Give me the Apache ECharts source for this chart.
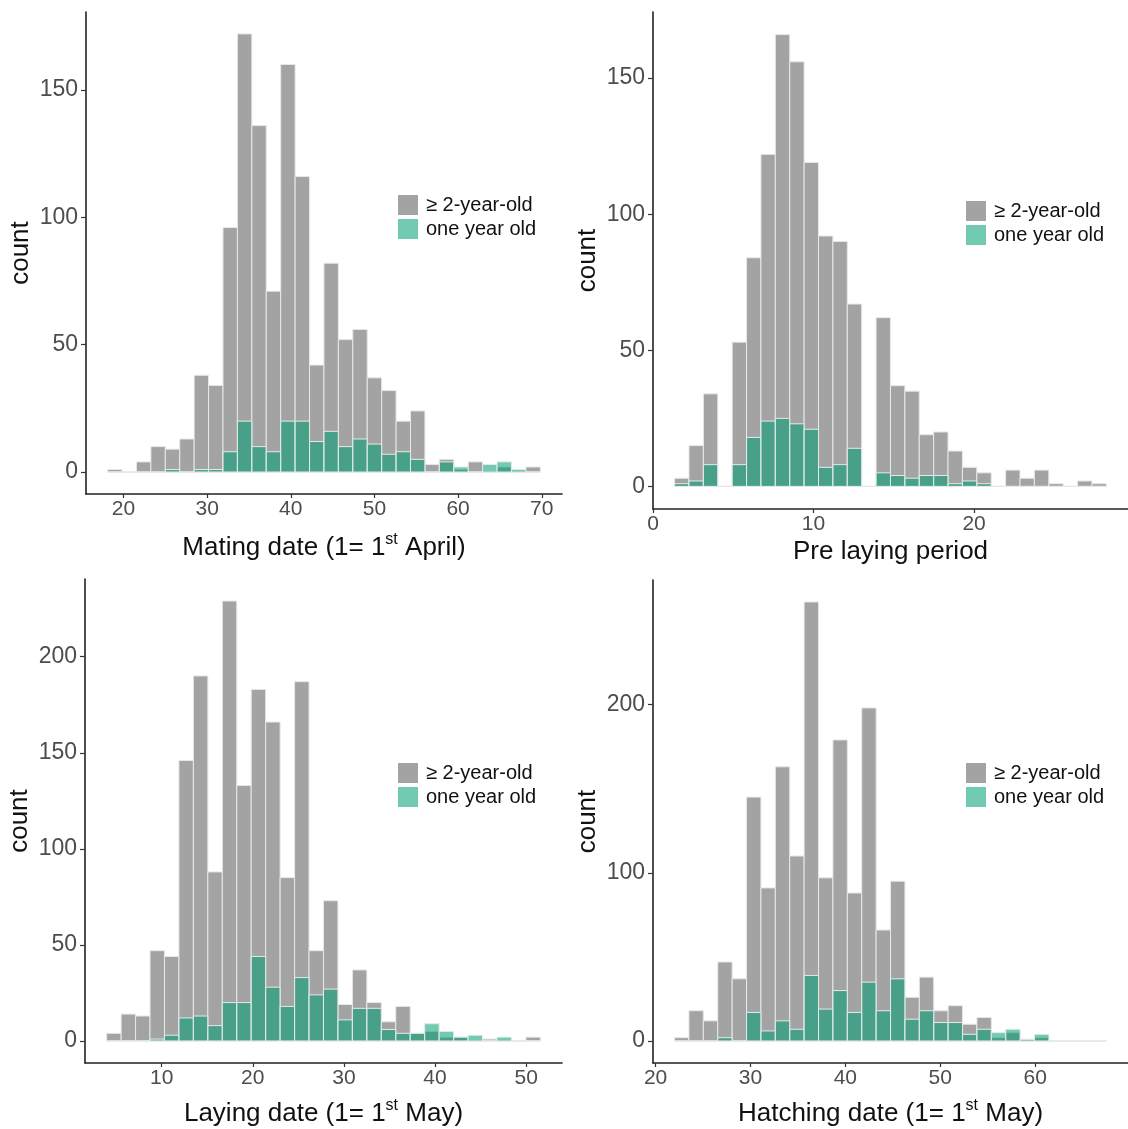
<!DOCTYPE html>
<html>
<head>
<meta charset="utf-8">
<script src="https://cdn.jsdelivr.net/npm/echarts@6/dist/echarts.min.js"></script>
<style>
html,body{margin:0;padding:0;background:#fff;}
#chart{width:1128px;height:1129px;}
</style>
</head>
<body>
<div id="chart"></div>
<script>
// bin counts, 30 bins per panel
var mateOld   = [1,0,4,10,9,13,38,34,96,172,136,71,160,116,42,82,52,56,37,32,20,24,3,5,1,4,0,2,0,2];
var mateYoung = [0,0,0,0,1,0,1,1,8,20,10,8,20,20,12,16,10,13,11,7,8,5,0,4,2,0,3,4,1,0];

var preOld    = [3,15,34,0,53,84,122,166,156,119,92,90,67,0,62,37,35,19,20,13,7,5,0,6,3,6,1,0,2,1];
var preYoung  = [1,2,8,0,8,18,24,25,23,21,7,8,14,0,5,4,3,4,4,1,2,1,0,0,0,0,0,0,0,0];

var layOld    = [4,14,13,47,44,146,190,88,229,133,183,166,85,187,47,73,19,37,20,10,18,4,5,2,2,0,1,0,0,2];
var layYoung  = [0,0,0,1,3,12,13,8,20,20,44,28,18,33,24,27,11,17,17,6,4,4,9,5,2,3,0,2,0,0];

var hatchOld  = [2,18,12,47,37,145,91,163,110,261,97,179,88,198,66,95,26,38,18,21,10,14,2,5,1,2,0,0,0,0];
var hatchYoung= [0,0,0,2,0,17,6,12,7,39,19,30,17,35,18,37,13,18,11,11,4,7,5,7,1,4,0,0,0,0];

// histogram breaks: first edge and bin width
var mateStart = 18.103, mateWidth = 50 / 29;
var preStart = 1.345, preWidth = 26 / 29;
var layStart = 3.966, layWidth = 46 / 29;
var hatchStart = 22.0, hatchWidth = 44 / 29;

// tick labels
var mateXTicks = [20,30,40,50,60,70], mateYTicks = [0,50,100,150];
var preXTicks = [0,10,20], preYTicks = [0,50,100,150];
var layXTicks = [10,20,30,40,50], layYTicks = [0,50,100,150,200];
var hatchXTicks = [20,30,40,50,60], hatchYTicks = [0,100,200];

var NAME_OLD = '≥ 2-year-old', NAME_YOUNG = 'one year old';
var FONT = "'Liberation Sans', Arial, sans-serif";
var GRAY = '#a3a3a3', GREEN = 'rgba(0,158,115,0.55)';

function bins(start, width, counts){
	var out = [];
	for (var i = 0; i < counts.length; i++) {
		out.push([start + i * width, start + (i + 1) * width, counts[i]]);
	}
	return out;
}

function renderBar(params, api){
	var p0 = api.coord([api.value(0), 0]);
	var p1 = api.coord([api.value(1), api.value(2)]);
	return {
		type: 'rect',
		shape: {x: p0[0], y: p1[1], width: p1[0] - p0[0], height: p0[1] - p1[1]},
		style: {fill: api.visual('color'), stroke: '#e6e9e9', lineWidth: 1}
	};
}

function xAxisOf(idx, min, max, ticks, title, gap){
	return {
		type: 'value', gridIndex: idx, min: min, max: max,
		axisLine: {show: true, onZero: false, lineStyle: {color: '#222', width: 1.6}},
		axisTick: {show: true, length: 4, customValues: ticks, lineStyle: {color: '#333', width: 1.2}},
		axisLabel: {customValues: ticks, color: '#4d4d4d', fontSize: 21, fontFamily: FONT, margin: 5},
		splitLine: {show: false},
		name: title, nameLocation: 'middle', nameGap: gap,
		nameTextStyle: {
			fontFamily: FONT, color: '#111', fontSize: 26, lineHeight: 32,
			rich: {
				a: {fontFamily: FONT, color: '#111', fontSize: 26, lineHeight: 32},
				s: {fontFamily: FONT, color: '#111', fontSize: 16, lineHeight: 20, verticalAlign: 'top'}
			}
		}
	};
}

function yAxisOf(idx, min, max, ticks){
	return {
		type: 'value', gridIndex: idx, min: min, max: max,
		axisLine: {show: true, onZero: false, lineStyle: {color: '#222', width: 1.6}},
		axisTick: {show: true, length: 5, customValues: ticks, lineStyle: {color: '#333', width: 1.2}},
		axisLabel: {customValues: ticks, color: '#4d4d4d', fontSize: 23, fontFamily: FONT, margin: 8},
		splitLine: {show: false},
		name: 'count', nameLocation: 'middle', nameRotate: 90, nameGap: 52,
		nameTextStyle: {fontFamily: FONT, color: '#111', fontSize: 26}
	};
}

function seriesOf(idx, start, width, old, young){
	return [{
		type: 'custom', name: NAME_OLD, xAxisIndex: idx, yAxisIndex: idx,
		renderItem: renderBar, itemStyle: {color: GRAY},
		encode: {x: [0, 1], y: 2}, data: bins(start, width, old)
	}, {
		type: 'custom', name: NAME_YOUNG, xAxisIndex: idx, yAxisIndex: idx,
		renderItem: renderBar, itemStyle: {color: GREEN},
		encode: {x: [0, 1], y: 2}, data: bins(start, width, young)
	}];
}

function legendOf(left, top){
	return {
		left: left, top: top, orient: 'vertical', icon: 'rect', padding: 0,
		itemWidth: 20, itemHeight: 20, itemGap: 4,
		data: [NAME_OLD, NAME_YOUNG],
		textStyle: {fontFamily: FONT, fontSize: 20, color: '#111', padding: [0, 0, 0, 3]}
	};
}

var chart = echarts.init(document.getElementById('chart'), null, {renderer: 'canvas'});
var option = {
	backgroundColor: '#fff',
	animation: false,
	textStyle: {fontFamily: FONT},
	grid: [
		{left: 86, top: 12, width: 476, height: 482, outerBoundsMode: 'none'},
		{left: 653, top: 12, width: 475, height: 497, outerBoundsMode: 'none'},
		{left: 85, top: 579, width: 477, height: 484, outerBoundsMode: 'none'},
		{left: 653, top: 580, width: 475, height: 483, outerBoundsMode: 'none'}
	],
	xAxis: [
		xAxisOf(0, 15.52, 72.42, mateXTicks, '{a|Mating date (1= 1}{s|st}{a| April)}', 38),
		xAxisOf(1, 0, 29.59, preXTicks, '{a|Pre laying period}', 27),
		xAxisOf(2, 1.59, 53.93, layXTicks, '{a|Laying date (1= 1}{s|st}{a| May)}', 35),
		xAxisOf(3, 19.73, 69.78, hatchXTicks, '{a|Hatching date (1= 1}{s|st}{a| May)}', 35)
	],
	yAxis: [
		yAxisOf(0, -8.6, 180.6, mateYTicks),
		yAxisOf(1, -8.3, 174.3, preYTicks),
		yAxisOf(2, -11.45, 240.45, layYTicks),
		yAxisOf(3, -13.05, 274.05, hatchYTicks)
	],
	legend: [
		legendOf(398, 195),
		legendOf(966, 201),
		legendOf(398, 763),
		legendOf(966, 763)
	],
	series: [].concat(
		seriesOf(0, mateStart, mateWidth, mateOld, mateYoung),
		seriesOf(1, preStart, preWidth, preOld, preYoung),
		seriesOf(2, layStart, layWidth, layOld, layYoung),
		seriesOf(3, hatchStart, hatchWidth, hatchOld, hatchYoung)
	)
};
chart.setOption(option);
</script>
</body>
</html>
